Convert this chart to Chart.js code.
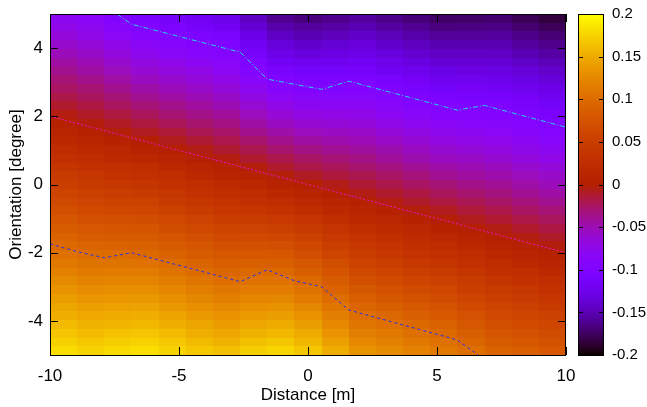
<!DOCTYPE html>
<html>
<head>
<meta charset="utf-8">
<script src="https://cdn.jsdelivr.net/npm/chart.js@4.4.1/dist/chart.umd.min.js"></script>
<style>
  body { margin: 0; background: #fff; }
</style>
</head>
<body>
<canvas id="heat" width="647" height="407"></canvas>
<script>
// axes
const xRange = [-10, 10];
const yRange = [-5, 5];
const cbRange = [-0.2, 0.2];
const xTicks = [-10, -5, 0, 5, 10];
const yTicks = [-4, -2, 0, 2, 4];

// cell values, one column per distance step (left to right), each listed bottom to top
const zCols = [
  [0.181,0.174,0.167,0.160,0.153,0.146,0.140,0.133,0.126,0.119,0.112,0.105,0.098,0.092,0.085,0.078,0.071,0.064,0.057,0.051,0.044,0.037,0.030,0.023,0.016,0.010,0.003,-0.004,-0.011,-0.018,-0.025,-0.031,-0.038,-0.045,-0.052,-0.059,-0.066,-0.073,-0.079],
  [0.175,0.168,0.161,0.155,0.148,0.141,0.134,0.127,0.120,0.113,0.107,0.100,0.093,0.086,0.079,0.072,0.066,0.059,0.052,0.045,0.038,0.031,0.024,0.018,0.011,0.004,-0.003,-0.010,-0.017,-0.024,-0.030,-0.037,-0.044,-0.051,-0.058,-0.065,-0.072,-0.078,-0.085],
  [0.179,0.172,0.165,0.157,0.150,0.143,0.136,0.128,0.121,0.114,0.107,0.100,0.092,0.085,0.078,0.071,0.063,0.056,0.049,0.042,0.034,0.027,0.020,0.013,0.005,-0.002,-0.009,-0.016,-0.024,-0.031,-0.038,-0.045,-0.053,-0.060,-0.067,-0.074,-0.082,-0.089,-0.096],
  [0.182,0.175,0.167,0.159,0.152,0.144,0.137,0.129,0.121,0.114,0.106,0.098,0.091,0.083,0.076,0.068,0.060,0.053,0.045,0.037,0.030,0.022,0.015,0.007,-0.001,-0.008,-0.016,-0.023,-0.031,-0.039,-0.046,-0.054,-0.062,-0.069,-0.077,-0.084,-0.092,-0.100,-0.107],
  [0.175,0.168,0.160,0.153,0.145,0.137,0.130,0.122,0.115,0.107,0.099,0.092,0.084,0.077,0.069,0.062,0.054,0.046,0.039,0.031,0.024,0.016,0.008,0.001,-0.007,-0.014,-0.022,-0.030,-0.037,-0.045,-0.052,-0.060,-0.068,-0.075,-0.083,-0.090,-0.098,-0.105,-0.113],
  [0.168,0.161,0.153,0.146,0.138,0.131,0.123,0.115,0.108,0.100,0.093,0.085,0.078,0.070,0.063,0.055,0.047,0.040,0.032,0.025,0.017,0.010,0.002,-0.005,-0.013,-0.021,-0.028,-0.036,-0.043,-0.051,-0.058,-0.066,-0.073,-0.081,-0.089,-0.096,-0.104,-0.111,-0.119],
  [0.163,0.155,0.147,0.140,0.132,0.125,0.117,0.110,0.102,0.094,0.087,0.079,0.072,0.064,0.057,0.049,0.041,0.034,0.026,0.019,0.011,0.004,-0.004,-0.012,-0.019,-0.027,-0.034,-0.042,-0.050,-0.057,-0.065,-0.072,-0.080,-0.087,-0.095,-0.103,-0.110,-0.118,-0.125],
  [0.172,0.164,0.155,0.147,0.139,0.130,0.122,0.114,0.105,0.097,0.089,0.080,0.072,0.064,0.055,0.047,0.038,0.030,0.022,0.013,0.005,-0.003,-0.012,-0.020,-0.028,-0.037,-0.045,-0.053,-0.062,-0.070,-0.078,-0.087,-0.095,-0.103,-0.112,-0.120,-0.128,-0.137,-0.145],
  [0.177,0.168,0.159,0.150,0.141,0.132,0.123,0.114,0.106,0.097,0.088,0.079,0.070,0.061,0.052,0.043,0.034,0.025,0.016,0.007,-0.002,-0.011,-0.019,-0.028,-0.037,-0.046,-0.055,-0.064,-0.073,-0.082,-0.091,-0.100,-0.109,-0.118,-0.127,-0.135,-0.144,-0.153,-0.162],
  [0.167,0.158,0.150,0.141,0.132,0.123,0.114,0.106,0.097,0.088,0.079,0.070,0.062,0.053,0.044,0.035,0.026,0.018,0.009,0.000,-0.009,-0.018,-0.026,-0.035,-0.044,-0.053,-0.062,-0.070,-0.079,-0.088,-0.097,-0.106,-0.114,-0.123,-0.132,-0.141,-0.150,-0.158,-0.167],
  [0.150,0.142,0.134,0.125,0.117,0.109,0.101,0.092,0.084,0.076,0.068,0.059,0.051,0.043,0.035,0.026,0.018,0.010,0.002,-0.006,-0.015,-0.023,-0.031,-0.039,-0.048,-0.056,-0.064,-0.072,-0.081,-0.089,-0.097,-0.105,-0.114,-0.122,-0.130,-0.138,-0.147,-0.155,-0.163],
  [0.132,0.125,0.117,0.109,0.102,0.094,0.087,0.079,0.071,0.064,0.056,0.048,0.041,0.033,0.026,0.018,0.010,0.003,-0.005,-0.013,-0.020,-0.028,-0.035,-0.043,-0.051,-0.058,-0.066,-0.073,-0.081,-0.089,-0.096,-0.104,-0.112,-0.119,-0.127,-0.134,-0.142,-0.150,-0.157],
  [0.126,0.118,0.111,0.103,0.096,0.088,0.080,0.073,0.065,0.057,0.050,0.042,0.035,0.027,0.019,0.012,0.004,-0.004,-0.011,-0.019,-0.026,-0.034,-0.042,-0.049,-0.057,-0.065,-0.072,-0.080,-0.087,-0.095,-0.103,-0.110,-0.118,-0.126,-0.133,-0.141,-0.148,-0.156,-0.164],
  [0.119,0.112,0.104,0.097,0.089,0.081,0.074,0.066,0.059,0.051,0.043,0.036,0.028,0.021,0.013,0.006,-0.002,-0.010,-0.017,-0.025,-0.032,-0.040,-0.048,-0.055,-0.063,-0.070,-0.078,-0.086,-0.093,-0.101,-0.108,-0.116,-0.124,-0.131,-0.139,-0.146,-0.154,-0.161,-0.169],
  [0.112,0.105,0.097,0.090,0.082,0.075,0.067,0.060,0.052,0.044,0.037,0.029,0.022,0.014,0.007,-0.001,-0.008,-0.016,-0.023,-0.031,-0.039,-0.046,-0.054,-0.061,-0.069,-0.076,-0.084,-0.091,-0.099,-0.106,-0.114,-0.122,-0.129,-0.137,-0.144,-0.152,-0.159,-0.167,-0.174],
  [0.102,0.095,0.088,0.080,0.073,0.066,0.059,0.051,0.044,0.037,0.030,0.022,0.015,0.008,0.001,-0.007,-0.014,-0.021,-0.028,-0.036,-0.043,-0.050,-0.057,-0.065,-0.072,-0.079,-0.086,-0.094,-0.101,-0.108,-0.115,-0.123,-0.130,-0.137,-0.144,-0.152,-0.159,-0.166,-0.173],
  [0.092,0.085,0.078,0.071,0.064,0.057,0.050,0.044,0.037,0.030,0.023,0.016,0.009,0.002,-0.005,-0.012,-0.019,-0.026,-0.033,-0.040,-0.047,-0.054,-0.061,-0.068,-0.075,-0.082,-0.089,-0.096,-0.103,-0.110,-0.117,-0.124,-0.131,-0.137,-0.144,-0.151,-0.158,-0.165,-0.172],
  [0.087,0.080,0.073,0.066,0.059,0.052,0.045,0.038,0.031,0.024,0.017,0.010,0.003,-0.004,-0.011,-0.018,-0.025,-0.032,-0.039,-0.046,-0.053,-0.060,-0.067,-0.074,-0.081,-0.088,-0.095,-0.102,-0.109,-0.115,-0.122,-0.129,-0.136,-0.143,-0.150,-0.157,-0.164,-0.171,-0.178],
  [0.081,0.074,0.067,0.060,0.053,0.046,0.039,0.032,0.025,0.018,0.011,0.004,-0.003,-0.010,-0.017,-0.024,-0.031,-0.038,-0.045,-0.052,-0.058,-0.065,-0.072,-0.079,-0.086,-0.093,-0.100,-0.107,-0.114,-0.121,-0.128,-0.135,-0.142,-0.149,-0.156,-0.163,-0.170,-0.177,-0.184]
];

// contour lines
const contourNeg = [{x:-7.4,y:5},{x:-6.84,y:4.7},{x:-2.63,y:3.88},{x:-1.58,y:3.09},{x:-0.53,y:2.94},{x:0.53,y:2.79},{x:1.58,y:3.03},{x:5.79,y:2.18},{x:6.84,y:2.32},{x:10,y:1.68}];
const contourZero = [{x:-10,y:2},{x:10,y:-2}];
const contourPos = [{x:-10,y:-1.74},{x:-8.95,y:-1.97},{x:-7.89,y:-2.15},{x:-6.84,y:-2.0},{x:-2.63,y:-2.85},{x:-1.58,y:-2.5},{x:-0.53,y:-2.82},{x:0.53,y:-3.0},{x:1.58,y:-3.68},{x:5.79,y:-4.56},{x:6.6,y:-5}];

const fontFamily = "'Liberation Sans', Arial, sans-serif";

// gnuplot style palette (rgbformulae 7,5,15)
function palette(v) {
    let g = (v - cbRange[0]) / (cbRange[1] - cbRange[0]);
    g = Math.min(1, Math.max(0, g));
    const r = Math.sqrt(g);
    const gr = g * g * g;
    const b = Math.max(0, Math.sin(2 * Math.PI * g));
    return `rgb(${Math.round(r*255)}, ${Math.round(gr*255)}, ${Math.round(b*255)})`;
}

const heatPlugin = {
    id: 'heat',
    beforeDatasetsDraw(chart) {
        const ctx = chart.ctx;
        const {x, y} = chart.scales;
        const nx = zCols.length;
        const ny = zCols[0].length;
        const dx = (xRange[1] - xRange[0]) / nx;
        const dy = (yRange[1] - yRange[0]) / ny;
        ctx.save();
        for (let i = 0; i < nx; i++) {
            const x0 = Math.round(x.getPixelForValue(xRange[0] + i * dx));
            const x1 = Math.round(x.getPixelForValue(xRange[0] + (i + 1) * dx));
            for (let j = 0; j < ny; j++) {
                const y0 = Math.round(y.getPixelForValue(yRange[0] + j * dy));
                const y1 = Math.round(y.getPixelForValue(yRange[0] + (j + 1) * dy));
                ctx.fillStyle = palette(zCols[i][j]);
                ctx.fillRect(x0, y1, x1 - x0, y0 - y1);
            }
        }
        ctx.restore();
    },
    afterDatasetsDraw(chart) {
        const ctx = chart.ctx;
        const {x, y, cb} = chart.scales;
        const area = chart.chartArea;
        const l = Math.round(area.left), r = Math.round(area.right);
        const t = Math.round(area.top), b = Math.round(area.bottom);
        ctx.save();
        ctx.strokeStyle = '#000';
        ctx.lineWidth = 1;
        ctx.beginPath();
        xTicks.forEach(v => {
            const px = Math.round(x.getPixelForValue(v)) + 0.5;
            ctx.moveTo(px, b); ctx.lineTo(px, b - 8);
            ctx.moveTo(px, t); ctx.lineTo(px, t + 8);
        });
        yTicks.forEach(v => {
            const py = Math.round(y.getPixelForValue(v)) + 0.5;
            ctx.moveTo(l, py); ctx.lineTo(l + 8, py);
            ctx.moveTo(r, py); ctx.lineTo(r - 8, py);
        });
        ctx.stroke();
        ctx.strokeRect(l + 0.5, t + 0.5, r - l - 1, b - t);

        // colour box
        const cl = r + 12, cw = 26;
        for (let py = Math.round(cb.top); py < Math.round(cb.bottom); py++) {
            ctx.fillStyle = palette(cb.getValueForPixel(py + 0.5));
            ctx.fillRect(cl, py, cw, 1);
        }
        ctx.beginPath();
        cb.ticks.forEach(tk => {
            const py = Math.round(cb.getPixelForValue(tk.value)) + 0.5;
            ctx.moveTo(cl, py); ctx.lineTo(cl + 5, py);
            ctx.moveTo(cl + cw, py); ctx.lineTo(cl + cw - 5, py);
        });
        ctx.stroke();
        ctx.strokeRect(cl + 0.5, Math.round(cb.top) + 0.5, cw - 1, Math.round(cb.bottom) - Math.round(cb.top));
        ctx.restore();
    }
};

new Chart(document.getElementById('heat'), {
    type: 'scatter',
    data: {
        datasets: [
            { data: contourNeg, borderColor: '#22d4f0', borderDash: [5, 2, 1, 2] },
            { data: contourZero, borderColor: '#ee11cc', borderDash: [2, 2] },
            { data: contourPos, borderColor: '#2233ee', borderDash: [3, 3] }
        ].map(d => Object.assign(d, { showLine: true, borderWidth: 1, pointRadius: 0, yAxisID: 'y' }))
    },
    options: {
        responsive: false,
        animation: false,
        devicePixelRatio: 1,
        layout: { padding: { top: 14, right: 0, bottom: 0, left: 0 } },
        plugins: { legend: { display: false }, tooltip: { enabled: false } },
        scales: {
            x: {
                type: 'linear', min: xRange[0], max: xRange[1],
                afterBuildTicks: s => { s.ticks = xTicks.map(v => ({ value: v })); },
                afterFit: s => { s.height = 52; },
                // tick marks are drawn inward by the plugin, tickLength only spaces the labels
                grid: { display: false, drawTicks: true, tickLength: 11 },
                border: { display: false },
                ticks: { padding: 0, color: '#000', font: { family: fontFamily, size: 17 } },
                title: { display: true, text: 'Distance [m]', color: '#000', padding: { top: 0, bottom: 1 }, font: { family: fontFamily, size: 17 } }
            },
            y: {
                type: 'linear', min: yRange[0], max: yRange[1],
                afterBuildTicks: s => { s.ticks = yTicks.map(v => ({ value: v })); },
                afterFit: s => { s.width = 50; },
                grid: { display: false, drawTicks: true, tickLength: 7 },
                border: { display: false },
                ticks: { padding: 0, color: '#000', font: { family: fontFamily, size: 17 } },
                title: { display: true, text: 'Orientation [degree]', color: '#000', padding: { top: 6, bottom: 0 }, font: { family: fontFamily, size: 17 } }
            },
            cb: {
                type: 'linear', position: 'right', min: cbRange[0], max: cbRange[1],
                afterFit: s => { s.width = 81; },
                grid: { display: false, drawTicks: true, tickLength: 46 },
                border: { display: false },
                ticks: { stepSize: 0.05, padding: 0, color: '#000', font: { family: fontFamily, size: 15 },
                         callback: v => String(+v.toFixed(2)) }
            }
        }
    },
    plugins: [heatPlugin]
});
</script>
</body>
</html>
